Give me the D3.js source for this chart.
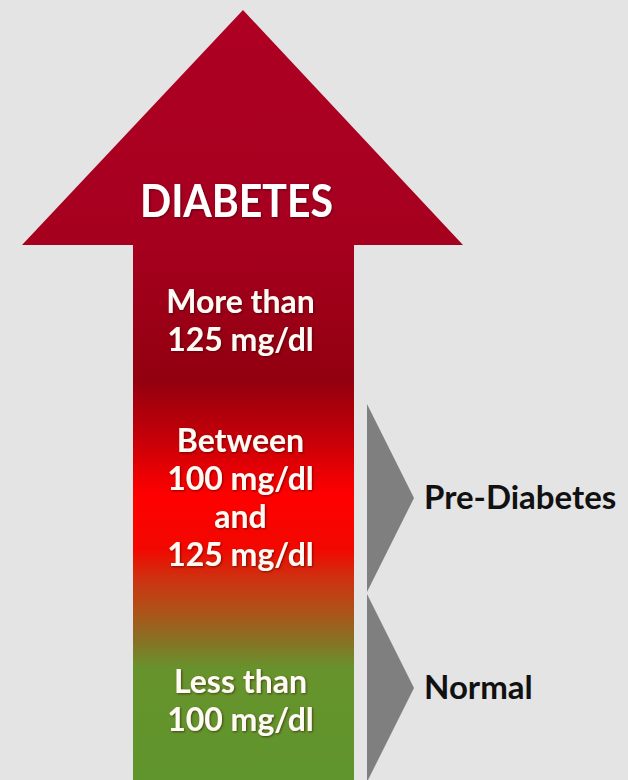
<!DOCTYPE html>
<html>
<head>
<meta charset="utf-8">
<script src="https://cdn.jsdelivr.net/npm/d3@7"></script>
<style>
  html, body { margin: 0; padding: 0; background: #e4e4e4; }
  svg { display: block; }
</style>
</head>
<body>
<div id="chart"></div>
<script>
// Glucose bands (mg/dl) bracketed by the chevrons on the right
const bandNames = ["Normal", "Pre-Diabetes"];
const bandFrom  = [75, 100];
const bandTo    = [100, 125];

// Text stacked inside the arrow, top to bottom
const headLabel = "DIABETES";
const shaftLabels = [
  ["More than", "125 mg/dl"],
  ["Between", "100 mg/dl", "and", "125 mg/dl"],
  ["Less than", "100 mg/dl"]
];

// Colour ramp along the arrow, from tip to tail
const rampOffsets = [0, 0.30, 0.48, 0.56, 0.63, 0.70, 0.74, 0.78, 0.82, 0.855, 1];
const rampColors  = ["#ae0023", "#a6001f", "#92000f", "#c80008", "#ff0000", "#f20800",
                     "#cc3311", "#ae5218", "#877225", "#67932c", "#5f952c"];

const W = 628, H = 780;
const svg = d3.select("#chart").append("svg")
  .attr("width", W).attr("height", H);

svg.append("rect").attr("width", W).attr("height", H).attr("fill", "#e4e4e4");

// vertical glucose scale for the band chevrons
const y = d3.scaleLinear().domain([75, 125]).range([783, 403]);

const defs = svg.append("defs");
const grad = defs.append("linearGradient")
  .attr("id", "ramp").attr("gradientUnits", "userSpaceOnUse")
  .attr("x1", 0).attr("x2", 0).attr("y1", 10).attr("y2", 780);
grad.selectAll("stop").data(rampOffsets).join("stop")
  .attr("offset", d => d)
  .attr("stop-color", (d, i) => rampColors[i]);

const shadow = defs.append("filter").attr("id", "txtShadow")
  .attr("x", "-10%").attr("y", "-20%").attr("width", "120%").attr("height", "140%");
shadow.append("feDropShadow")
  .attr("dx", 1).attr("dy", 1).attr("stdDeviation", 0.8)
  .attr("flood-color", "#300000").attr("flood-opacity", 0.55);

// Arrow geometry
const tipX = 243, tipY = 10, headY = 245, headL = 22, headR = 463;
const shaftL = 133, shaftR = 354;
const arrow = d3.path();
arrow.moveTo(tipX, tipY);
arrow.lineTo(headR, headY);
arrow.lineTo(shaftR, headY);
arrow.lineTo(shaftR, H);
arrow.lineTo(shaftL, H);
arrow.lineTo(shaftL, headY);
arrow.lineTo(headL, headY);
arrow.closePath();
svg.append("path").attr("d", arrow.toString()).attr("fill", "url(#ramp)");

const font = "Lato, 'Open Sans', sans-serif";
const cx = (shaftL + shaftR) / 2;

svg.append("text")
  .attr("x", cx - 7).attr("y", 217)
  .attr("text-anchor", "middle")
  .attr("font-family", font).attr("font-weight", 700)
  .attr("font-size", 45)
  .attr("textLength", 193).attr("lengthAdjust", "spacingAndGlyphs")
  .attr("fill", "#ffffff")
  .attr("filter", "url(#txtShadow)")
  .text(headLabel);

// baselines of each block's first line, and the line step
const blockTop = [313, 452, 693];
const lineStep = 38;
shaftLabels.forEach((lines, b) => {
  svg.append("g").selectAll("text").data(lines).join("text")
    .attr("x", cx - 3)
    .attr("y", (d, i) => blockTop[b] + i * lineStep)
    .attr("text-anchor", "middle")
    .attr("font-family", font).attr("font-weight", 700)
    .attr("font-size", 32)
    .attr("fill", "#fffaf4")
    .attr("filter", "url(#txtShadow)")
    .text(d => d);
});

// Chevrons marking each band, with their names
const chevL = 367, chevTip = 414;
const bands = bandNames.map((n, i) => ({ name: n, from: bandFrom[i], to: bandTo[i] }));
const gBands = svg.append("g");
gBands.selectAll("path").data(bands).join("path")
  .attr("d", d => {
    const p = d3.path();
    const yTop = y(d.to) + 1, yBot = y(d.from) - 1;
    p.moveTo(chevL, yTop);
    p.lineTo(chevTip, (yTop + yBot) / 2);
    p.lineTo(chevL, yBot);
    p.closePath();
    return p.toString();
  })
  .attr("fill", "#7f7f7f");

gBands.selectAll("text").data(bands).join("text")
  .attr("x", 424)
  .attr("y", d => (y(d.to) + y(d.from)) / 2 + 11)
  .attr("font-family", font).attr("font-weight", 700)
  .attr("font-size", 33)
  .attr("fill", "#111111")
  .text(d => d.name);
</script>
</body>
</html>
